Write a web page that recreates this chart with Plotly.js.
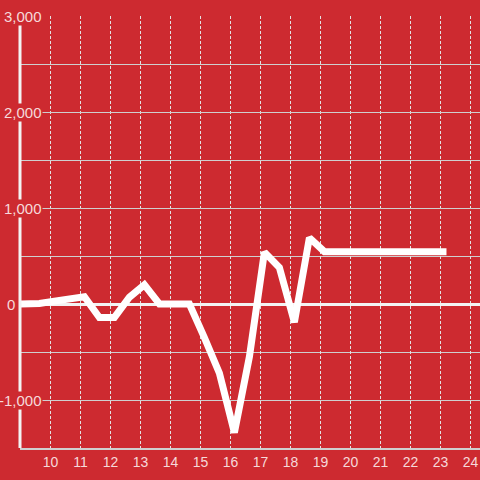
<!DOCTYPE html>
<html>
<head>
<meta charset="utf-8">
<script src="https://cdn.plot.ly/plotly-3.0.1.min.js"></script>
<style>html,body{margin:0;padding:0;background:#cd2a30;}#chart{width:480px;height:480px;}</style>
</head>
<body>
<div id="chart"></div>
<script>
// Data
var hours = [9.0, 9.13, 9.63, 10.13, 10.63, 11.13, 11.63, 12.13, 12.63, 13.13, 13.63, 14.13, 14.63, 15.13, 15.63, 16.13, 16.63, 17.13, 17.63, 18.13, 18.63, 19.13, 19.63, 20.13, 20.63, 21.13, 21.63, 22.13, 22.63, 23.2];
var values = [0, 0, 5, 30, 55, 75, -140, -140, 70, 200, 0, 0, 0, -350, -720, -1340, -550, 540, 380, -190, 690, 545, 545, 545, 545, 545, 545, 545, 545, 545];
var xTickVals = [10, 11, 12, 13, 14, 15, 16, 17, 18, 19, 20, 21, 22, 23, 24];
var yTickVals = [3000, 2000, 1000, 0, -1000];
var yTickText = ["3,000", "2,000", "1,000", "0", "-1,000"];

var red = "#cd2a30";
var labelColor = "#f6d9da";
var fontFam = "Liberation Sans, Arial, sans-serif";

var annotations = yTickVals.map(function (v, i) {
  return {
    xref: "paper", x: 0, yref: "y", y: v,
    xanchor: "right", yanchor: "middle",
    xshift: v === 0 ? -4 : 23,
    text: yTickText[i], showarrow: false,
    bgcolor: red, borderpad: 0,
    font: {family: fontFam, size: 15, color: labelColor}
  };
});

var trace = {
  x: hours, y: values, type: "scatter", mode: "lines",
  line: {color: "#ffffff", width: 7},
  hoverinfo: "skip"
};

var layout = {
  width: 480, height: 480,
  margin: {l: 20, r: 0, t: 16, b: 32},
  paper_bgcolor: red, plot_bgcolor: red,
  showlegend: false,
  font: {family: fontFam, color: labelColor},
  xaxis: {
    range: [8.983, 24.317],
    tickmode: "array", tickvals: xTickVals,
    showgrid: true, gridcolor: "#e3e3e3", gridwidth: 1, griddash: "3px,2px",
    showline: true, linecolor: "#cfcfcf", linewidth: 2,
    zeroline: false, ticks: "",
    tickfont: {family: fontFam, size: 14, color: labelColor}
  },
  yaxis: {
    range: [-1500, 3000],
    tick0: 0, dtick: 1000,
    showticklabels: false, ticks: "",
    showgrid: true, gridcolor: "#cfcfcf", gridwidth: 1,
    minor: {dtick: 500, showgrid: true, gridcolor: "#cfcfcf", gridwidth: 1, ticks: ""},
    zeroline: true, zerolinecolor: "#f3f3f3", zerolinewidth: 3,
    showline: false
  },
  shapes: [{
    type: "line", xref: "paper", yref: "paper",
    x0: 0, x1: 0, y0: 0, y1: 1,
    line: {color: "#f3f3f3", width: 3},
    layer: "above"
  }],
  annotations: annotations
};

Plotly.newPlot("chart", [trace], layout, {displayModeBar: false, staticPlot: true});
</script>
</body>
</html>
